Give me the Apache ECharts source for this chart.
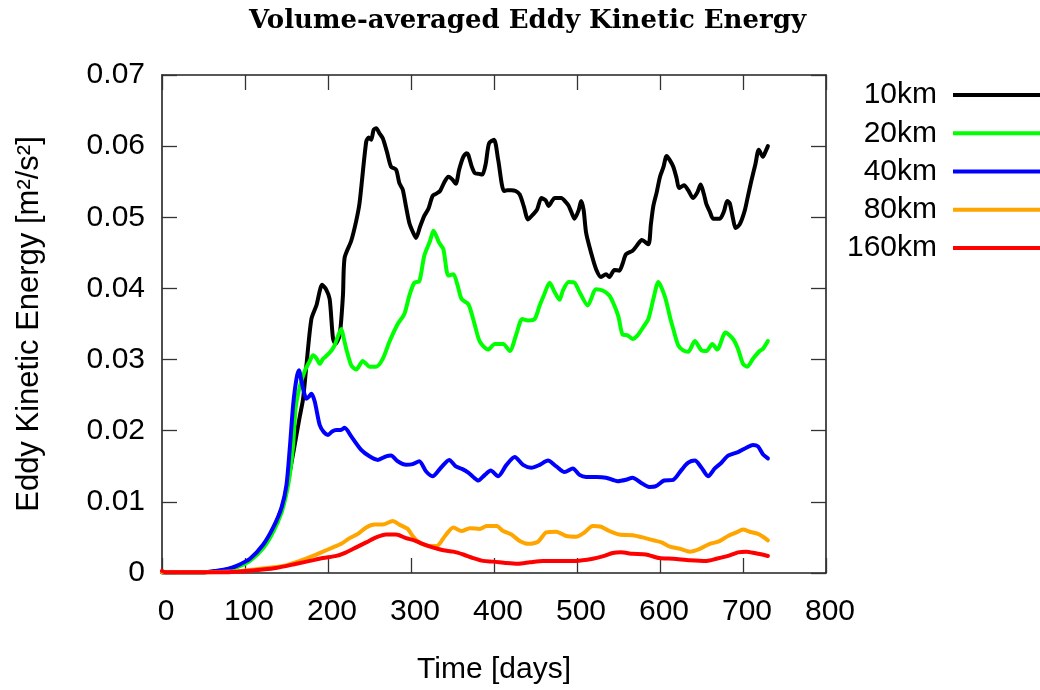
<!DOCTYPE html>
<html>
<head>
<meta charset="utf-8">
<script src="https://cdn.jsdelivr.net/npm/echarts@6/dist/echarts.min.js"></script>
<style>
  html, body { margin: 0; padding: 0; background: #ffffff; }
  #chart { width: 1040px; height: 690px; }
</style>
</head>
<body>
<div id="chart"></div>
<script>
// Volume-averaged eddy kinetic energy [m^2/s^2] vs. time [days], one run per resolution.
const seriesNames = ['10km', '20km', '40km', '80km', '160km'];
const seriesColors = ['#000000', '#00ff00', '#0000ff', '#ffa500', '#ff0000'];

const xTicks = [0, 100, 200, 300, 400, 500, 600, 700, 800];
const yTicks = [0, 0.01, 0.02, 0.03, 0.04, 0.05, 0.06, 0.07];

const eke10km = [
  [0,0.0001],[30,0.0001],[50,0.0001],[70,0.0003],[90,0.0009],[106,0.0019],[122,0.0038],[134,0.0062],
  [144,0.009],[150,0.0118],[156,0.0155],[162,0.0194],[166,0.022],[170,0.0245],[174,0.0292],[180,0.0357],
  [186,0.0376],[193,0.0405],[198,0.0398],[202,0.0385],[206,0.033],[209,0.0322],[214,0.0334],[218,0.039],
  [220,0.0443],[228,0.0467],[234,0.0495],[238,0.052],[246,0.0606],[249,0.0612],[252,0.0609],[255,0.0623],
  [258,0.0625],[262,0.0618],[266,0.0611],[271,0.0592],[276,0.0571],[282,0.0567],[286,0.0548],[290,0.0539],
  [294,0.0515],[298,0.0492],[302,0.048],[306,0.0471],[311,0.0487],[316,0.0502],[321,0.0512],[326,0.053],
  [330,0.0533],[335,0.0537],[340,0.0549],[345,0.0557],[350,0.0553],[354,0.0547],[358,0.0567],[363,0.0585],
  [367,0.059],[369,0.0588],[373,0.0572],[377,0.0562],[382,0.0561],[386,0.056],[390,0.0575],[394,0.0604],
  [400,0.0609],[405,0.0581],[412,0.0537],[416,0.0538],[421,0.0538],[426,0.0537],[431,0.0532],[436,0.0515],
  [441,0.0497],[447,0.0504],[452,0.0511],[457,0.0527],[462,0.0524],[466,0.0516],[470,0.0523],[473,0.0527],
  [481,0.0527],[486,0.0522],[490,0.0516],[494,0.0505],[497,0.0498],[502,0.051],[505,0.0523],[508,0.051],
  [511,0.0478],[517,0.045],[523,0.0427],[529,0.0416],[535,0.042],[539,0.0416],[545,0.0426],[551,0.0425],
  [555,0.0435],[559,0.0448],[567,0.0453],[572,0.046],[578,0.0468],[586,0.0462],[589,0.049],[592,0.0516],
  [596,0.0535],[600,0.0557],[604,0.057],[608,0.0586],[612,0.058],[616,0.0571],[620,0.0555],[623,0.0541],
  [629,0.0545],[634,0.0538],[640,0.0527],[645,0.0535],[649,0.0546],[653,0.0532],[656,0.0518],[660,0.0508],
  [664,0.0498],[672,0.0498],[677,0.0508],[681,0.0523],[684,0.052],[688,0.0498],[691,0.0485],[696,0.049],
  [702,0.0509],[706,0.053],[710,0.0551],[715,0.0575],[719,0.0595],[724,0.0585],[727,0.0592],[730,0.06]
];

const eke20km = [
  [0,0.0001],[30,0.0001],[50,0.0001],[70,0.0003],[90,0.0008],[106,0.0017],[122,0.0035],[134,0.0058],
  [144,0.0085],[150,0.0112],[154,0.0138],[158,0.018],[161,0.0232],[166,0.0262],[172,0.0284],[178,0.0298],
  [182,0.0306],[186,0.0302],[190,0.0294],[194,0.0301],[197,0.0304],[203,0.0311],[208,0.032],[212,0.0333],
  [216,0.0343],[219,0.033],[222,0.0315],[228,0.0292],[234,0.0286],[242,0.0298],[246,0.0294],[250,0.029],
  [258,0.029],[266,0.0301],[274,0.0325],[284,0.035],[292,0.0364],[298,0.039],[304,0.0408],[310,0.041],
  [316,0.0446],[323,0.0467],[327,0.0481],[334,0.0464],[339,0.0455],[345,0.0418],[351,0.042],[356,0.0405],
  [361,0.0385],[369,0.0378],[373,0.0365],[377,0.0348],[383,0.0325],[393,0.0314],[401,0.0322],[411,0.0322],
  [419,0.0312],[427,0.0336],[434,0.0357],[441,0.0355],[449,0.0357],[455,0.0376],[460,0.039],[467,0.0408],
  [473,0.0395],[479,0.0384],[483,0.0397],[490,0.0409],[497,0.0408],[503,0.0395],[513,0.0376],[523,0.0399],
  [531,0.0397],[539,0.039],[545,0.0376],[550,0.036],[555,0.0335],[561,0.0334],[567,0.0329],[573,0.0334],
  [580,0.0346],[586,0.0357],[592,0.0385],[598,0.0409],[606,0.0388],[612,0.036],[616,0.0343],[622,0.032],
  [628,0.0313],[634,0.0311],[642,0.0326],[650,0.0313],[656,0.0312],[663,0.0322],[669,0.0314],[679,0.0338],
  [688,0.0329],[694,0.0315],[700,0.0294],[705,0.029],[712,0.0301],[720,0.0312],[724,0.0315],[730,0.0326]
];

const eke40km = [
  [0,0.0001],[30,0.0001],[50,0.0001],[65,0.0003],[80,0.0006],[90,0.001],[106,0.002],[122,0.004],
  [134,0.0064],[144,0.0092],[150,0.0124],[154,0.0176],[158,0.0236],[162,0.0273],[165,0.0285],[168,0.027],
  [170,0.0259],[174,0.0245],[177,0.0248],[180,0.0252],[184,0.0241],[190,0.0208],[195,0.0198],[200,0.0194],
  [205,0.0199],[210,0.0201],[215,0.0201],[220,0.0204],[228,0.0192],[240,0.0173],[250,0.0164],[260,0.0159],
  [270,0.0164],[276,0.0165],[284,0.0157],[294,0.0152],[302,0.0153],[310,0.0157],[318,0.0143],[326,0.0136],
  [336,0.0148],[346,0.0159],[354,0.015],[362,0.0146],[369,0.0141],[375,0.0135],[381,0.013],[389,0.0138],
  [396,0.0144],[405,0.0136],[415,0.0152],[425,0.0163],[435,0.0152],[445,0.0148],[455,0.0152],[465,0.0158],
  [475,0.015],[485,0.0142],[495,0.0147],[503,0.0138],[511,0.0135],[523,0.0135],[535,0.0134],[549,0.0129],
  [559,0.0131],[567,0.0134],[577,0.0127],[587,0.0121],[595,0.0122],[605,0.013],[616,0.0131],[626,0.0145],
  [634,0.0155],[642,0.0158],[650,0.0148],[658,0.0136],[666,0.0147],[674,0.0155],[682,0.0165],[694,0.017],
  [704,0.0176],[712,0.018],[718,0.0178],[724,0.0167],[730,0.0161]
];

const eke80km = [
  [0,0.0001],[40,0.0001],[86,0.0002],[118,0.0006],[146,0.001],[166,0.0017],[182,0.0024],[194,0.003],
  [206,0.0036],[216,0.0041],[226,0.0049],[236,0.0055],[246,0.0064],[256,0.0068],[266,0.0068],[278,0.0073],
  [286,0.0068],[296,0.0062],[302,0.0052],[310,0.0043],[323,0.0038],[331,0.0038],[341,0.0052],[351,0.0064],
  [361,0.0059],[371,0.0063],[383,0.0062],[391,0.0066],[403,0.0066],[411,0.0059],[421,0.0054],[431,0.0045],
  [441,0.0041],[453,0.0044],[463,0.0057],[475,0.0058],[487,0.0052],[499,0.0051],[509,0.0057],[519,0.0066],
  [529,0.0065],[539,0.0059],[551,0.0054],[567,0.0053],[579,0.005],[592,0.0046],[602,0.0043],[612,0.0037],
  [624,0.0034],[636,0.003],[648,0.0034],[660,0.0041],[670,0.0044],[682,0.0052],[692,0.0057],[700,0.0061],
  [708,0.0058],[718,0.0055],[724,0.0051],[730,0.0046]
];

const eke160km = [
  [0,0.0003],[4,0.0001],[40,0.0001],[80,0.0001],[106,0.0003],[137,0.0007],[162,0.0013],[178,0.0017],
  [194,0.0021],[210,0.0024],[222,0.0029],[234,0.0036],[246,0.0043],[258,0.005],[270,0.0054],[282,0.0054],
  [294,0.0049],[304,0.0046],[314,0.0041],[326,0.0036],[339,0.0032],[351,0.003],[363,0.0026],[375,0.0021],
  [387,0.0017],[399,0.0016],[415,0.0014],[429,0.0013],[443,0.0015],[459,0.0017],[479,0.0017],[499,0.0017],
  [519,0.002],[533,0.0024],[543,0.0028],[553,0.0029],[567,0.0027],[583,0.0026],[599,0.0021],[616,0.002],
  [636,0.0018],[656,0.0017],[668,0.002],[682,0.0024],[694,0.0029],[704,0.003],[714,0.0028],[730,0.0024]
];

const seriesData = [eke10km, eke20km, eke40km, eke80km, eke160km];

const SANS = 'Liberation Sans, Arial, Helvetica, sans-serif';
const FS = 30;
const xMin = xTicks[0], xMax = xTicks[xTicks.length - 1], xStep = xTicks[1] - xTicks[0];
const yMin = yTicks[0], yMax = yTicks[yTicks.length - 1], yStep = yTicks[1] - yTicks[0];

const tickStyle = { show: true, inside: true, length: 15, lineStyle: { color: '#333', width: 1.3 } };
const frameLine = { show: true, onZero: false, lineStyle: { color: '#222', width: 1.6 } };

const chart = echarts.init(document.getElementById('chart'), null, { renderer: 'canvas' });

chart.setOption({
  animation: false,
  backgroundColor: '#ffffff',
  title: {
    text: 'Volume-averaged Eddy Kinetic Energy',
    left: 244,
    top: 3,
    textStyle: { fontFamily: 'DejaVu Serif, Liberation Serif, serif', fontWeight: 'bold', fontSize: 26, color: '#000' }
  },
  legend: {
    orient: 'vertical',
    right: 0,
    top: 76,
    padding: 0,
    itemGap: 0,
    align: 'right',
    icon: 'rect',
    itemWidth: 87,
    itemHeight: 4,
    data: seriesNames,
    textStyle: { fontFamily: SANS, fontSize: FS, color: '#000', lineHeight: 38.2, padding: [0, 11, 0, 0] }
  },
  grid: { left: 162, right: 214, top: 75, bottom: 114, containLabel: false },
  xAxis: [
    {
      type: 'value', min: xMin, max: xMax, interval: xStep, position: 'bottom',
      name: 'Time [days]', nameLocation: 'middle', nameGap: 82,
      nameTextStyle: { fontFamily: SANS, fontSize: FS, color: '#000' },
      axisLine: frameLine, axisTick: tickStyle, splitLine: { show: false },
      axisLabel: { fontFamily: SANS, fontSize: FS, color: '#000', margin: 24, padding: [0, 0, 0, 8] }
    },
    {
      type: 'value', min: xMin, max: xMax, interval: xStep, position: 'top',
      axisLine: frameLine, axisTick: tickStyle, axisLabel: { show: false }, splitLine: { show: false }
    }
  ],
  yAxis: [
    {
      type: 'value', min: yMin, max: yMax, interval: yStep, position: 'left',
      name: 'Eddy Kinetic Energy [m²/s²]', nameLocation: 'middle', nameRotate: 90, nameGap: 117,
      nameTextStyle: { fontFamily: SANS, fontSize: 31, color: '#000' },
      axisLine: frameLine, axisTick: tickStyle, splitLine: { show: false },
      axisLabel: {
        fontFamily: SANS, fontSize: FS, color: '#000', margin: 17,
        formatter: v => (v === 0 ? '0' : v.toFixed(2))
      }
    },
    {
      type: 'value', min: yMin, max: yMax, interval: yStep, position: 'right',
      axisLine: frameLine, axisTick: tickStyle, axisLabel: { show: false }, splitLine: { show: false }
    }
  ],
  series: seriesNames.map((name, i) => ({
    name: name,
    type: 'line',
    xAxisIndex: 0,
    yAxisIndex: 0,
    data: seriesData[i],
    showSymbol: false,
    smooth: 0.25,
    color: seriesColors[i],
    lineStyle: { color: seriesColors[i], width: 4, join: 'round', cap: 'round' },
    z: 2 + i
  }))
});
</script>
</body>
</html>
